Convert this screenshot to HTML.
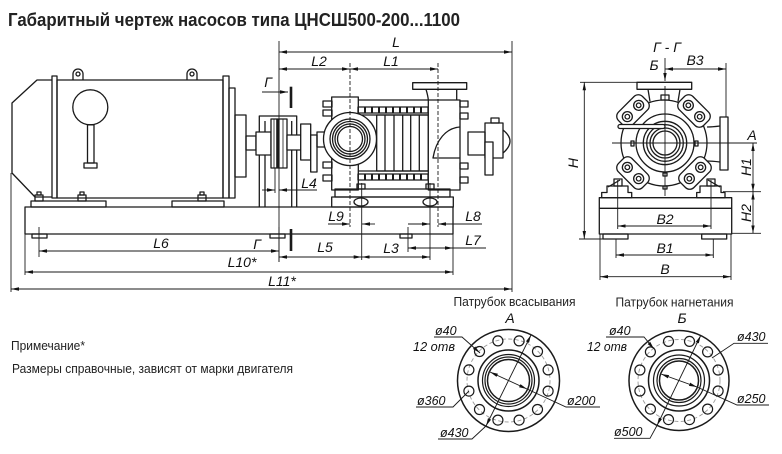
<!DOCTYPE html>
<html><head><meta charset="utf-8">
<style>
html,body{margin:0;padding:0;background:#fff;width:782px;height:454px;overflow:hidden}
svg{display:block}
.t{font-family:"Liberation Sans",sans-serif;fill:#222}
.d{font-family:"Liberation Sans",sans-serif;font-style:italic;font-size:14px;fill:#111}
.f{font-family:"Liberation Sans",sans-serif;font-style:italic;font-size:12.5px;fill:#111}
</style></head><body>
<svg width="782" height="454" viewBox="0 0 782 454" xmlns="http://www.w3.org/2000/svg">
<defs>
<marker id="a" viewBox="0 0 8 4" refX="8" refY="2" markerWidth="8" markerHeight="4" orient="auto-start-reverse" markerUnits="userSpaceOnUse"><path d="M0,0.3 L8,2 L0,3.7 z" fill="#111"/></marker>
</defs>

<text class="t" x="8" y="26" font-size="18.5" font-weight="bold" textLength="452" lengthAdjust="spacingAndGlyphs">Габаритный чертеж насосов типа ЦНСШ500-200...1100</text>

<!-- ============ MOTOR ============ -->
<g fill="none" stroke="#1a1a1a" stroke-width="1.3" stroke-linejoin="round">
<path d="M52,80 L37,80 L12,103 L12,173 L35,197 L52,197"/>
<rect x="52" y="76" width="5" height="122"/>
<rect x="57" y="80" width="166" height="118"/>
<rect x="223" y="76" width="6" height="122"/>
<rect x="229" y="88" width="6" height="110"/>
<rect x="235" y="115" width="11" height="62"/>
<rect x="246" y="136" width="10" height="14"/>
<path d="M73,80 L73,74 A5,5 0 0 1 83,74 L83,80"/><circle cx="78" cy="74" r="2"/>
<path d="M187,80 L187,74 A5,5 0 0 1 197,74 L197,80"/><circle cx="192" cy="74" r="2"/>
<circle cx="90.3" cy="107.3" r="17.5"/>
<rect x="87.5" y="124.8" width="6.5" height="38.2"/>
<rect x="84" y="163" width="13" height="5"/>
<rect x="31" y="201" width="75" height="6"/>
<rect x="172" y="201" width="52" height="6"/>
<rect x="35" y="195" width="8" height="6"/><rect x="37" y="192" width="4" height="3"/>
<rect x="78" y="195" width="8" height="6"/><rect x="80" y="192" width="4" height="3"/>
<rect x="198" y="195" width="8" height="6"/><rect x="200" y="192" width="4" height="3"/>
<!-- base -->
<rect x="25" y="207" width="428" height="27"/>
<rect x="32" y="234" width="15" height="4"/>
<rect x="270" y="234" width="15" height="4"/>
<rect x="400" y="234" width="12" height="4"/>

<!-- ============ COUPLING ============ -->
<path d="M259.3,207 L259.3,116 L296.7,116 L296.7,207 M265,207 L265,121 M291.7,121 L291.7,207"/>
<rect x="256" y="132" width="15" height="23" fill="#fff"/>
<rect x="271" y="119" width="16" height="49" fill="#fff"/>
<rect x="276.5" y="119" width="2.8" height="49" fill="#1a1a1a" stroke-width="0.6"/>
<line x1="274" y1="119" x2="274" y2="168" stroke-width="0.8"/>
<line x1="283" y1="119" x2="283" y2="168" stroke-width="0.8"/>
<rect x="287" y="135" width="14" height="15" fill="#fff"/>
<rect x="300.7" y="124" width="10" height="36" fill="#fff"/>
<rect x="310.7" y="135" width="6.3" height="37" fill="#fff"/>
<rect x="317" y="132" width="10" height="15"/>

<!-- ============ PUMP ============ -->
<rect x="331.7" y="97" width="26.6" height="93"/>
<rect x="323" y="101" width="9" height="6"/><rect x="323" y="110" width="9" height="6"/>
<rect x="323" y="162" width="9" height="6"/><rect x="323" y="175" width="9" height="6"/>
<line x1="358" y1="100" x2="428" y2="100"/>
<rect x="358" y="107" width="70" height="6"/>
<rect x="358" y="174" width="70" height="6"/>
<path d="M365,107 v6 M372,107 v6 M379,107 v6 M386,107 v6 M393,107 v6 M400,107 v6 M407,107 v6 M414,107 v6 M421,107 v6
 M365,174 v6 M372,174 v6 M379,174 v6 M386,174 v6 M393,174 v6 M400,174 v6 M407,174 v6 M414,174 v6 M421,174 v6" stroke-width="2"/>
<line x1="358" y1="115" x2="428" y2="115"/>
<line x1="358" y1="171" x2="428" y2="171"/>
<rect x="376.7" y="115" width="51.6" height="56"/>
<path d="M385,115 V171 M394,115 V171 M402.7,115 V171 M410.7,115 V171 M419.3,115 V171"/>
<circle cx="350" cy="139" r="26.5" fill="#fff"/>
<circle cx="350" cy="139" r="20"/>
<circle cx="350" cy="139" r="17.5"/>
<circle cx="350" cy="139" r="15"/>
<circle cx="350" cy="139" r="12.5"/>
<rect x="428.3" y="100" width="31.7" height="90" fill="#fff"/>
<path d="M460,127 C446,128 436,140 433,158 L460,158"/>
<rect x="412.7" y="82.7" width="54" height="6.6"/>
<path d="M426,89.3 Q428,96 428.3,100 M456.7,89.3 L456.7,100"/>
<rect x="460" y="101" width="8" height="6"/><rect x="460" y="113" width="8" height="6"/>
<rect x="460" y="163" width="8" height="6"/><rect x="460" y="177" width="8" height="6"/>
<rect x="468" y="132" width="17" height="23"/>
<rect x="485" y="123" width="18" height="35"/>
<rect x="485" y="142" width="8" height="33" fill="#fff"/>
<path d="M503,130 Q517,141 503,153"/>
<rect x="491" y="118" width="8" height="5"/>
<rect x="335" y="189" width="115" height="8"/>
<rect x="331.7" y="197" width="121.6" height="10"/>
<ellipse cx="361" cy="202" rx="7" ry="4"/>
<ellipse cx="430" cy="202" rx="7" ry="4"/>
<rect x="357" y="184" width="8" height="5"/>
<rect x="426" y="184" width="8" height="5"/>
</g>

<!-- ============ SIDE VIEW ============ -->
<g fill="none" stroke="#1a1a1a" stroke-width="1.3" stroke-linejoin="round">
<rect x="637" y="82.3" width="54.7" height="7"/>
<path d="M648,89.3 L650,101.5 M680,89.3 L678,101.5"/>
<rect x="661" y="95" width="8" height="5"/>
<circle cx="664" cy="143" r="43"/>
<path d="M707,127 Q712,127 720,126 M707,161 Q712,161 720,162"/>
<rect x="720" y="117" width="8" height="53"/>
<path d="M620,180 L608,187 M708,180 L720,187"/>
<polygon points="601.7,197.7 601.7,192.5 607,192.5 607,186 628,186 628,192.5 631.7,192.5 631.7,197.7"/>
<polygon points="696.7,197.7 696.7,192.5 700,192.5 700,186 721,186 721,192.5 725,192.5 725,197.7"/>
<rect x="614" y="179" width="8" height="7"/>
<rect x="707" y="179" width="8" height="7"/>
<rect x="599.3" y="197.7" width="132.4" height="36.3"/>
<line x1="599.3" y1="208.3" x2="731.7" y2="208.3"/>
<rect x="603" y="234" width="25" height="5"/>
<rect x="701.7" y="234" width="25" height="5"/>
<g fill="#fff">
<g transform="translate(633,111) rotate(-45)"><rect x="-17" y="-9.5" width="34" height="19" rx="6"/><circle cx="-8" r="5"/><circle cx="8" r="5"/><circle cx="-8" r="2.3"/><circle cx="8" r="2.3"/></g>
<g transform="translate(694,111) rotate(45)"><rect x="-17" y="-9.5" width="34" height="19" rx="6"/><circle cx="-8" r="5"/><circle cx="8" r="5"/><circle cx="-8" r="2.3"/><circle cx="8" r="2.3"/></g>
<g transform="translate(633,173) rotate(45)"><rect x="-17" y="-9.5" width="34" height="19" rx="6"/><circle cx="-8" r="5"/><circle cx="8" r="5"/><circle cx="-8" r="2.3"/><circle cx="8" r="2.3"/></g>
<g transform="translate(695,173) rotate(-45)"><rect x="-17" y="-9.5" width="34" height="19" rx="6"/><circle cx="-8" r="5"/><circle cx="8" r="5"/><circle cx="-8" r="2.3"/><circle cx="8" r="2.3"/></g>
</g>
<circle cx="665" cy="143" r="29"/>
<circle cx="665" cy="143" r="21.7"/>
<circle cx="665" cy="143" r="18.3"/>
<circle cx="665" cy="143" r="15"/>
<circle cx="665" cy="143" r="12"/>
<rect x="618" y="124.5" width="47" height="4" rx="2" fill="#fff"/>
<rect x="631" y="141" width="3" height="5"/><rect x="695" y="141" width="3" height="5"/>
<rect x="663" y="173" width="4" height="3"/><rect x="663" y="186" width="4" height="3"/>
</g>

<!-- ============ DIMENSIONS ============ -->
<g fill="none" stroke="#1a1a1a" stroke-width="0.9">
<line x1="279" y1="52" x2="512" y2="52" marker-start="url(#a)" marker-end="url(#a)"/>
<line x1="279" y1="69" x2="350" y2="69" marker-start="url(#a)" marker-end="url(#a)"/>
<line x1="350" y1="69" x2="438" y2="69" marker-start="url(#a)" marker-end="url(#a)"/>
<line x1="350" y1="63" x2="350" y2="227" stroke-dasharray="4,2"/>
<line x1="438" y1="63" x2="438" y2="227" stroke-dasharray="4,2"/>
<line x1="279" y1="41" x2="279" y2="262"/>
<line x1="275" y1="168" x2="275" y2="193"/>
<line x1="512" y1="41" x2="512" y2="292"/>
<line x1="361.7" y1="183" x2="361.7" y2="260"/>
<line x1="430" y1="183" x2="430" y2="260"/>
<line x1="262" y1="92" x2="288" y2="92" marker-end="url(#a)"/>
<line x1="291" y1="86.7" x2="291" y2="108" stroke-width="2.6"/>
<line x1="291" y1="229" x2="291" y2="251" stroke-width="2.6"/>
<line x1="39" y1="251" x2="279" y2="251" marker-start="url(#a)" marker-end="url(#a)"/>
<line x1="279" y1="257" x2="361.7" y2="257" marker-start="url(#a)" marker-end="url(#a)"/>
<line x1="361.7" y1="257" x2="430" y2="257" marker-start="url(#a)" marker-end="url(#a)"/>
<line x1="25" y1="272" x2="453" y2="272" marker-start="url(#a)" marker-end="url(#a)"/>
<line x1="11" y1="289" x2="512" y2="289" marker-start="url(#a)" marker-end="url(#a)"/>
<line x1="11" y1="173" x2="11" y2="292"/>
<line x1="25" y1="234" x2="25" y2="275"/>
<line x1="39" y1="227" x2="39" y2="257"/>
<line x1="453" y1="207" x2="453" y2="275"/>
<line x1="408" y1="227" x2="408" y2="252"/>
<line x1="279" y1="227" x2="279" y2="262"/>
<!-- L4 -->
<line x1="262" y1="190" x2="275" y2="190" marker-end="url(#a)"/>
<line x1="317" y1="190" x2="279" y2="190" marker-end="url(#a)"/>
<!-- L9 -->
<line x1="328" y1="224" x2="350" y2="224" marker-end="url(#a)"/>
<line x1="375" y1="224" x2="362" y2="224" marker-end="url(#a)"/>
<!-- L8 -->
<line x1="408" y1="224" x2="430" y2="224" marker-end="url(#a)"/>
<line x1="482" y1="224" x2="438" y2="224" marker-end="url(#a)"/>
<!-- L7 -->
<line x1="408" y1="248" x2="453" y2="248" marker-start="url(#a)" marker-end="url(#a)"/>
<line x1="453" y1="248" x2="486" y2="248"/>
<!-- side view dims -->
<line x1="665" y1="58" x2="665" y2="81" marker-end="url(#a)"/>
<line x1="665" y1="69" x2="726" y2="69" marker-start="url(#a)" marker-end="url(#a)"/>
<line x1="726" y1="63" x2="726" y2="117"/>
<line x1="580" y1="82.3" x2="637" y2="82.3"/>
<line x1="579" y1="239" x2="603" y2="239"/>
<line x1="584.3" y1="82.3" x2="584.3" y2="239" marker-start="url(#a)" marker-end="url(#a)"/>
<line x1="612" y1="143" x2="757" y2="143"/>
<line x1="665" y1="86" x2="665" y2="196"/>
<line x1="753" y1="143" x2="753" y2="191.7" marker-start="url(#a)" marker-end="url(#a)"/>
<line x1="753" y1="191.7" x2="753" y2="233.3" marker-start="url(#a)" marker-end="url(#a)"/>
<line x1="723" y1="191.7" x2="761" y2="191.7"/>
<line x1="731.7" y1="233.3" x2="761" y2="233.3"/>
<line x1="617.7" y1="180" x2="617.7" y2="229"/>
<line x1="711" y1="180" x2="711" y2="229"/>
<line x1="617.7" y1="226" x2="711" y2="226" marker-start="url(#a)" marker-end="url(#a)"/>
<line x1="616" y1="239" x2="616" y2="258"/>
<line x1="713.3" y1="239" x2="713.3" y2="258"/>
<line x1="616" y1="255" x2="713.3" y2="255" marker-start="url(#a)" marker-end="url(#a)"/>
<line x1="600" y1="234" x2="600" y2="280"/>
<line x1="731" y1="234" x2="731" y2="280"/>
<line x1="600" y1="276.7" x2="731" y2="276.7" marker-start="url(#a)" marker-end="url(#a)"/>
</g>

<!-- ============ FLANGE A ============ -->
<g fill="none" stroke="#1a1a1a" stroke-width="1.2">
<g transform="translate(508.5,380.5)">
<circle r="51" stroke-width="1.5"/>
<circle r="41.5" stroke="#999" stroke-width="0.9" stroke-dasharray="4,2.5"/>
<circle cx="39.6" cy="10.6" r="5"/><circle cx="29" cy="29" r="5"/><circle cx="10.6" cy="39.6" r="5"/>
<circle cx="-10.6" cy="39.6" r="5"/><circle cx="-29" cy="29" r="5"/><circle cx="-39.6" cy="10.6" r="5"/>
<circle cx="-39.6" cy="-10.6" r="5"/><circle cx="-29" cy="-29" r="5"/><circle cx="-10.6" cy="-39.6" r="5"/>
<circle cx="10.6" cy="-39.6" r="5"/><circle cx="29" cy="-29" r="5"/><circle cx="39.6" cy="-10.6" r="5"/>
<circle r="30.5" stroke-width="1.5"/><circle r="26"/><circle r="23.5"/><circle r="21" stroke-width="1.5"/>
</g>
<g stroke-width="0.9">
<path d="M434,337 L462,337 L480,353" marker-end="url(#a)"/>
<path d="M416,407 L453,407 L469,391"/>
<path d="M600,407 L566,407 L527,389"/>
<line x1="490" y1="372" x2="527" y2="389" marker-start="url(#a)" marker-end="url(#a)"/>
<path d="M438,439 L472,439 L486,426"/>
<line x1="486" y1="426" x2="531" y2="335" marker-start="url(#a)" marker-end="url(#a)"/>
</g>
</g>

<!-- ============ FLANGE Б ============ -->
<g fill="none" stroke="#1a1a1a" stroke-width="1.2">
<g transform="translate(679,380.5)">
<circle r="50" stroke-width="1.5"/>
<circle r="41" stroke="#999" stroke-width="0.9" stroke-dasharray="4,2.5"/>
<circle cx="39.1" cy="10.5" r="5"/><circle cx="28.6" cy="28.6" r="5"/><circle cx="10.5" cy="39.1" r="5"/>
<circle cx="-10.5" cy="39.1" r="5"/><circle cx="-28.6" cy="28.6" r="5"/><circle cx="-39.1" cy="10.5" r="5"/>
<circle cx="-39.1" cy="-10.5" r="5"/><circle cx="-28.6" cy="-28.6" r="5"/><circle cx="-10.5" cy="-39.1" r="5"/>
<circle cx="10.5" cy="-39.1" r="5"/><circle cx="28.6" cy="-28.6" r="5"/><circle cx="39.1" cy="-10.5" r="5"/>
<circle r="30.5" stroke-width="1.5"/><circle r="25.5"/><circle r="22"/><circle r="19.5" stroke-width="1.5"/>
</g>
<g stroke-width="0.9">
<path d="M606,337 L644,337 L654,349" marker-end="url(#a)"/>
<path d="M768,343.3 L734,343.3 L712,358"/>
<path d="M769,405 L737,405 L697,387"/>
<line x1="661" y1="374" x2="697" y2="387" marker-start="url(#a)" marker-end="url(#a)"/>
<path d="M614,438.3 L650,438.3 L657,425.5"/>
<line x1="657" y1="425.5" x2="700.7" y2="335.5" marker-start="url(#a)" marker-end="url(#a)"/>
</g>
</g>

<!-- ============ LABELS ============ -->
<g class="d" text-anchor="middle">
<text x="396" y="47">L</text>
<text x="319" y="66">L2</text>
<text x="391" y="66">L1</text>
<text x="268" y="87">Г</text>
<text x="309" y="188">L4</text>
<text x="336" y="221">L9</text>
<text x="473" y="221">L8</text>
<text x="473" y="245">L7</text>
<text x="325" y="252">L5</text>
<text x="391" y="253">L3</text>
<text x="161" y="248">L6</text>
<text x="257" y="249">Г</text>
<text x="242" y="267">L10*</text>
<text x="282" y="286">L11*</text>
<text x="667" y="52">Г - Г</text>
<text x="654" y="70">Б</text>
<text x="695" y="65">B3</text>
<text x="752" y="140">A</text>
<text x="665" y="224">B2</text>
<text x="665" y="253">B1</text>
<text x="665" y="274">B</text>
<text transform="translate(578,163) rotate(-90)">H</text>
<text transform="translate(751,167) rotate(-90)">H1</text>
<text transform="translate(751,213) rotate(-90)">H2</text>
</g>

<text class="t" x="453.5" y="306" font-size="13" textLength="122" lengthAdjust="spacingAndGlyphs">Патрубок всасывания</text>
<text class="t" x="615.5" y="306.5" font-size="13" textLength="118" lengthAdjust="spacingAndGlyphs">Патрубок нагнетания</text>
<text class="d" x="510" y="323" text-anchor="middle">А</text>
<text class="d" x="682" y="323" text-anchor="middle">Б</text>

<g class="f">
<text x="435" y="335">ø40</text>
<text x="413" y="351" textLength="42" lengthAdjust="spacingAndGlyphs">12 отв</text>
<text x="417" y="405">ø360</text>
<text x="567" y="405">ø200</text>
<text x="440" y="437">ø430</text>
<text x="609" y="335">ø40</text>
<text x="587" y="351" textLength="40" lengthAdjust="spacingAndGlyphs">12 отв</text>
<text x="737" y="341">ø430</text>
<text x="737" y="403">ø250</text>
<text x="614" y="436">ø500</text>
</g>

<text class="t" x="11" y="350" font-size="13" fill="#333" textLength="74" lengthAdjust="spacingAndGlyphs">Примечание*</text>
<text class="t" x="12" y="373" font-size="13" fill="#333" textLength="281" lengthAdjust="spacingAndGlyphs">Размеры справочные, зависят от марки двигателя</text>
</svg>
</body></html>
